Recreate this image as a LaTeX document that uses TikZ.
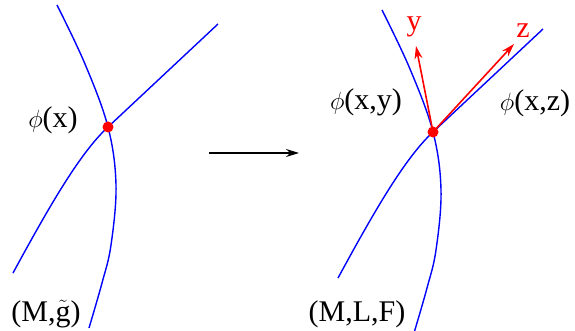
\documentclass[tikz,border=0pt]{standalone}
\usepackage{fontspec}
\setmainfont{Liberation Serif}
\usetikzlibrary{arrows.meta}
\begin{document}
\begin{tikzpicture}[x=1pt,y=-1pt,
  curve/.style={blue,line width=1.4pt},
  dotmark/.style={circle,fill=red,inner sep=0pt,minimum size=11pt},
  lab/.style={font=\fontsize{30}{32}\selectfont,inner sep=0pt},
  redarrow/.style={red,line width=1.6pt,-{Stealth[length=13pt,width=8pt]}},
  maparrow/.style={black,line width=1.3pt,-{Stealth[length=13pt,width=8pt]}}]
\useasboundingbox (0,0) rectangle (575,331);
% left picture
\begin{scope}
\coordinate (L1) at (108,127);
\draw[curve] plot[smooth,tension=0.6] coordinates {(57,5) (85,64) (108,127) (116,185) (111,245) (102,283) (89,328)};
\draw[curve] (13,273) .. controls (50,205) and (80,153) .. (L1) -- (218,24);
\node[dotmark] (p1) at (L1) {};
\node[lab] (phix) at (53,120) {$\phi$(x)};
\node[lab] (Mg) at (46,314) {(M,$\tilde{\hbox{g}}$)};
\end{scope}
% map arrow
\coordinate (a1) at (209,153);
\coordinate (a2) at (299,153);
\draw[maparrow] (a1) -- (a2);
% right picture
\begin{scope}[shift={(325,5)}]
\coordinate (L2) at (108,127);
\draw[curve] plot[smooth,tension=0.6] coordinates {(57,5) (85,64) (108,127) (116,185) (111,245) (102,283) (89,328)};
\draw[curve] (13,273) .. controls (50,205) and (80,153) .. (L2) -- (218,24);
\end{scope}
\coordinate (ty) at (416,46);
\coordinate (tz) at (514,44);
\draw[redarrow] (433,132) -- (ty);
\draw[redarrow] (433,132) -- (tz);
\node[dotmark] (p2) at (433,132) {};
\node[lab,text=red] (ylab) at (414,27) {y};
\node[lab,text=red] (zlab) at (523,31) {z};
\node[lab] (phixy) at (366,102) {$\phi$(x,y)};
\node[lab] (phixz) at (535,103) {$\phi$(x,z)};
\node[lab] (MLF) at (357,314) {(M,L,F)};
\end{tikzpicture}
\end{document}
